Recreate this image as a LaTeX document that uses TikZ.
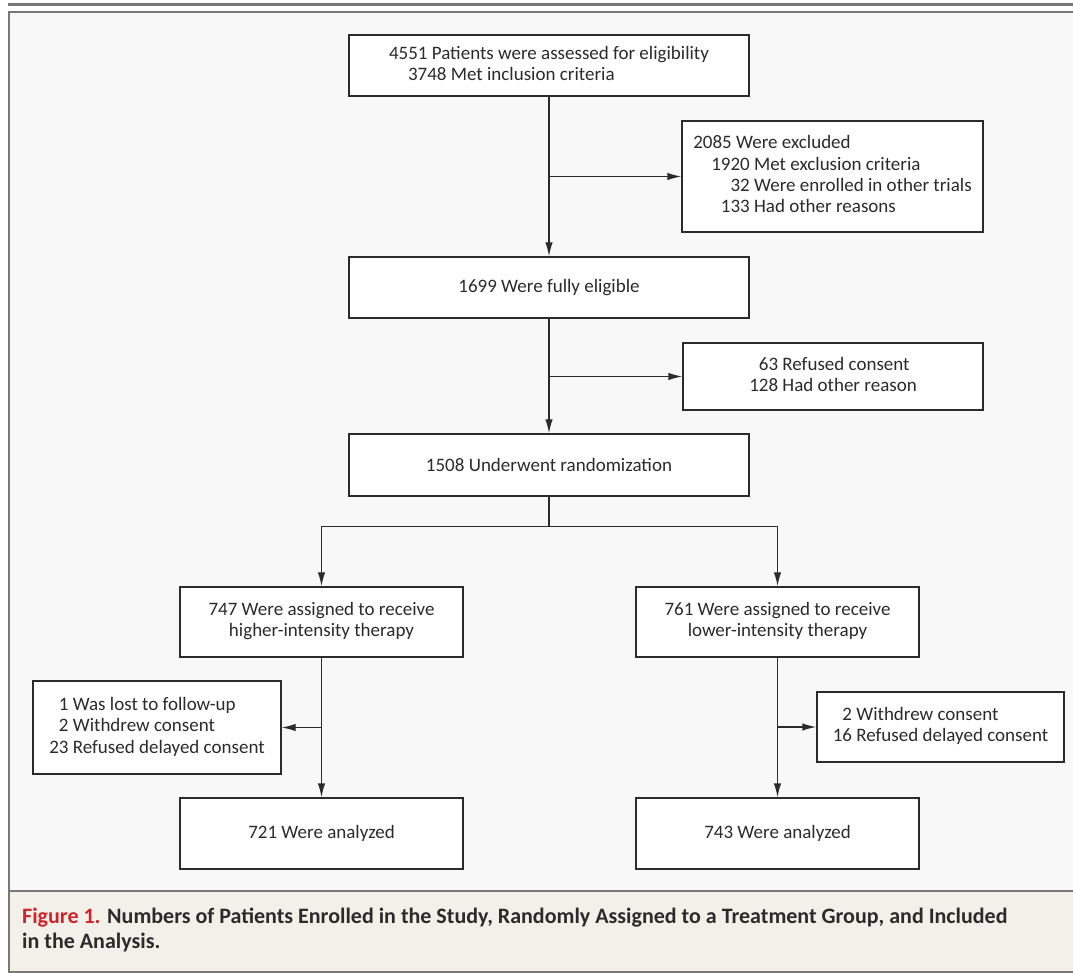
\documentclass[tikz,border=0pt]{standalone}
\usepackage{fontspec}
\setmainfont{Carlito}
\usetikzlibrary{arrows.meta,calc}
\definecolor{bg}{HTML}{F8F8F8}
\definecolor{capbg}{HTML}{F3F0E9}
\definecolor{framec}{HTML}{787878}
\definecolor{ink}{HTML}{2B2B2B}
\definecolor{nejmred}{HTML}{D2232A}
\begin{document}
\begin{tikzpicture}[x=1pt,y=-1pt,
  box/.style={draw=ink, line width=1.4pt, fill=white, inner sep=0pt, text=ink,
    font=\fontsize{19}{21.3}\selectfont},
  conn/.style={draw=ink, line width=1.4pt},
  arr/.style={conn, -{Latex[length=14pt,width=7.5pt]}},
  captxt/.style={anchor=base west, inner sep=0pt, text=ink, font=\bfseries\fontsize{22}{25}\selectfont}]
\useasboundingbox (0,0) rectangle (1073,973);
% frame
\fill[white] (0,0) rectangle (1073,973);
\fill[bg] (9,12) rectangle (1076,891);
\fill[capbg] (9,891) rectangle (1076,972);
\draw[framec, line width=1.5pt] (1076,12) -- (9,12) -- (9,972) -- (1076,972);
\draw[framec, line width=1.5pt] (9,891) -- (1076,891);
\draw[framec, line width=2.5pt] (8,4.5) -- (1076,4.5);
% boxes
\node[box, minimum width=400pt, minimum height=61pt] (b1) at (549,65.5)
  {\begin{tabular}{@{}l@{}}4551 Patients were assessed for eligibility\\\hspace*{19pt}3748 Met inclusion criteria\end{tabular}};
\node[box, minimum width=301pt, minimum height=111pt] (ex1) at (832.5,176.5)
  {\begin{tabular}{@{\hspace{18pt}}r@{\ }l@{}}\multicolumn{2}{@{}l@{}}{2085 Were excluded}\\
   1920 & Met exclusion criteria\\ 32 & Were enrolled in other trials\\ 133 & Had other reasons\end{tabular}};
\node[box, minimum width=400pt, minimum height=61pt] (b2) at (549,287.5) {1699 Were fully eligible};
\node[box, minimum width=300pt, minimum height=67pt] (ex2) at (833,376.5)
  {\begin{tabular}{@{}r@{\ }l@{}}63 & Refused consent\\ 128 & Had other reason\end{tabular}};
\node[box, minimum width=400pt, minimum height=62pt] (b3) at (549,465) {1508 Underwent randomization};
\node[box, minimum width=283pt, minimum height=70pt] (gl) at (321.5,622)
  {\begin{tabular}{@{}c@{}}747 Were assigned to receive\\higher-intensity therapy\end{tabular}};
\node[box, minimum width=283pt, minimum height=70pt] (gr) at (777.5,622)
  {\begin{tabular}{@{}c@{}}761 Were assigned to receive\\lower-intensity therapy\end{tabular}};
\node[box, minimum width=248pt, minimum height=93pt] (exl) at (157,727.5)
  {\begin{tabular}{@{}r@{\ }l@{}}1 & Was lost to follow-up\\ 2 & Withdrew consent\\ 23 & Refused delayed consent\end{tabular}};
\node[box, minimum width=247pt, minimum height=70pt] (exr) at (940.5,727)
  {\begin{tabular}{@{}r@{\ }l@{}}2 & Withdrew consent\\ 16 & Refused delayed consent\end{tabular}};
\node[box, minimum width=283pt, minimum height=71pt] (al) at (321.5,833.5) {721 Were analyzed};
\node[box, minimum width=283pt, minimum height=71pt] (ar) at (777.5,833.5) {743 Were analyzed};
% connectors
\draw[arr] (b1.south) -- (b2.north);
\coordinate (j1) at (b1.south |- ex1.west);
\draw[arr] (j1) -- (ex1.west);
\draw[arr] (b2.south) -- (b3.north);
\coordinate (j2) at (b2.south |- ex2.west);
\draw[arr] (j2) -- (ex2.west);
\coordinate (s) at ($(b3.south)+(0,30)$);
\draw[conn] (b3.south) -- (s);
\draw[arr] (s) -| (gl.north);
\draw[arr] (s) -| (gr.north);
\draw[arr] (gl.south) -- (al.north);
\coordinate (j3) at (gl.south |- exl.east);
\draw[arr] (j3) -- (exl.east);
\draw[arr] (gr.south) -- (ar.north);
\coordinate (j4) at (gr.south |- exr.west);
\draw[arr] (j4) -- (exr.west);
% caption
\node[captxt] (cap1) at (22,923) {\textcolor{nejmred}{Figure 1.} Numbers of Patients Enrolled in the Study, Randomly Assigned to a Treatment Group, and Included};
\node[captxt] (cap2) at (22,948) {in the Analysis.};
\end{tikzpicture}
\end{document}
